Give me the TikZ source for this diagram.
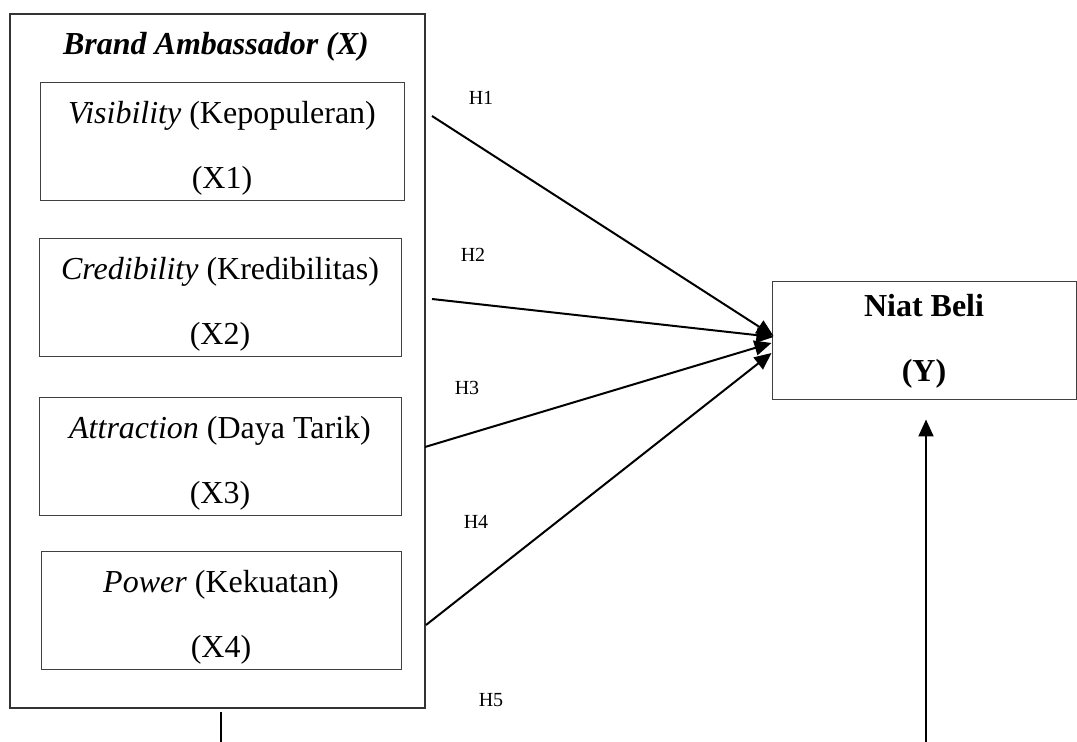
\documentclass[tikz,border=0pt]{standalone}
\usepackage{fontspec}
\setmainfont{Liberation Serif}
\usetikzlibrary{calc,arrows.meta}

\newcommand{\boxstrut}{\rule{0pt}{17.5pt}}
\tikzset{
	varbox/.style={draw=black!75, line width=0.5pt, minimum height=59pt, inner sep=0pt, align=center, font=\fontsize{16}{32.5}\selectfont},
	hyplabel/.style={font=\fontsize{10}{12}\selectfont, inner sep=0pt},
	hyparrow/.style={line width=1pt, -{Triangle[length=8.5pt,width=7.5pt]}},
}

\begin{document}
\begin{tikzpicture}[x=0.5pt, y=-0.5pt]
			%%%%% START %%%%%
			\useasboundingbox (0,0) rectangle (1077,742);
			
			\draw[line width=0.6pt, color=black!80] (10,14) rectangle (425,708);
			\node[inner sep=0pt, font=\bfseries\itshape\fontsize{16}{18}\selectfont] (bamb) at (216,47) {Brand Ambassador (X)};
			
			\node[varbox, minimum width=182pt] (vis) at (222,142) {\boxstrut\textit{Visibility} (Kepopuleran)\\(X1)};
			\node[varbox, minimum width=181pt] (cred) at (220,298) {\boxstrut\textit{Credibility} (Kredibilitas)\\(X2)};
			\node[varbox, minimum width=181pt] (attr) at (220,457) {\boxstrut\textit{Attraction} (Daya Tarik)\\(X3)};
			\node[varbox, minimum width=180pt] (pow) at (221,611) {\boxstrut\textit{Power} (Kekuatan)\\(X4)};
			
			\node[varbox, minimum width=152pt, font=\bfseries\fontsize{16}{32.5}\selectfont] (niat) at (924,341) {Niat Beli\\(Y)};
			
			\node[hyplabel] (h1) at (481,98) {H1};
			\node[hyplabel] (h2) at (473,255) {H2};
			\node[hyplabel] (h3) at (467,388) {H3};
			\node[hyplabel] (h4) at (476,522) {H4};
			\node[hyplabel] (h5) at (491,700) {H5};
			
			\coordinate (s1) at (432,116);
			\coordinate (s2) at (432,299);
			\coordinate (s3) at (425,447);
			\coordinate (s4) at (426,625);
			\coordinate (s5) at (926,742);
			
			\draw[hyparrow] (s1) -- ($(niat.west)+(1pt,2.5pt)$);
			\draw[hyparrow] (s2) -- ($(niat.west)+(1pt,2pt)$);
			\draw[hyparrow] (s3) -- ($(niat.west)+(0pt,-1pt)$);
			\draw[hyparrow] (s4) -- ($(niat.west)+(0pt,-6pt)$);
			\draw[hyparrow] (s5) -- ($(niat.south)+(1pt,-9.5pt)$);
			
			\coordinate (b1) at (221,712);
			\coordinate (b2) at (221,742);
			\draw[line width=1pt] (b1) -- (b2);
			
			%%%%% END %%%%%
\end{tikzpicture}
\end{document}
